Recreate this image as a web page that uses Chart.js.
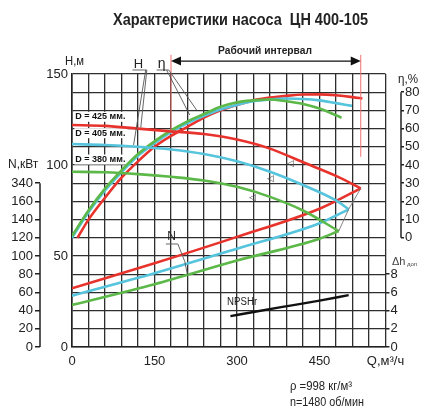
<!DOCTYPE html>
<html><head><meta charset="utf-8">
<script src="https://cdn.jsdelivr.net/npm/chart.js@4.4.1/dist/chart.umd.min.js"></script>
<style>html,body{margin:0;padding:0;background:#fff;}#wrap{width:427px;height:410px;}</style>
</head><body><div id="wrap"><canvas id="c" width="427" height="410"></canvas></div>
<script>
// ---- data (Q in m3/h) ----
const Q_H425 = [0, 60, 120, 180, 240, 300, 360, 420, 480, 525];
const H425   = [122, 121.5, 120, 118.5, 117, 114, 109, 101.5, 94, 87.2];
const Q_H405 = [0, 60, 120, 180, 240, 300, 360, 420, 480, 503];
const H405   = [111.5, 111, 110, 108.5, 106, 102, 96.3, 89, 80.5, 75.7];
const Q_H380 = [0, 60, 120, 180, 240, 300, 360, 420, 485];
const H380   = [96.3, 96, 95, 93.5, 91.5, 88, 82.5, 75, 63.7];

const Q_N425 = [0, 150, 300, 450, 525];
const N425   = [64.5, 92, 121, 152, 174.4];
const Q_N405 = [0, 150, 300, 450, 503];
const N405   = [56.4, 81, 108, 136, 151.3];
const Q_N380 = [0, 150, 300, 450, 485];
const N380   = [46.2, 69, 95, 119, 127.5];

const Q_E425 = [10, 30, 60, 90, 120, 150, 180, 210, 240, 270, 300, 330, 360, 390, 420, 450, 480, 510, 528];
const E425   = [0, 10, 22, 33, 42, 50, 56, 61, 66, 70, 73, 75.5, 77, 78, 78.7, 78.8, 78.3, 77.3, 76.5];
const Q_E405 = [0, 30, 60, 90, 120, 150, 180, 210, 240, 270, 300, 330, 360, 390, 420, 450, 480, 509];
const E405   = [0, 14, 26, 36, 45, 52, 58, 63, 67, 70.5, 73, 75, 76, 76.5, 76.3, 75.5, 74, 72.5];
const Q_E380 = [0, 30, 60, 90, 120, 150, 180, 210, 240, 270, 300, 330, 360, 390, 420, 450, 490];
const E380   = [1, 15, 27, 37, 46, 53, 59, 64, 68, 72, 74.5, 75.5, 76, 75, 73.5, 71, 66];

const Q_NPSH = [288, 330, 397, 450, 503];
const NPSH   = [3.4, 3.85, 4.55, 5.1, 5.7];

const X_LABELED = [0, 150, 300, 450];
const X_END_LABEL = 'Q,м³/ч';
const H_LABELED = [0, 50, 100, 150];
const N_TICKS = [0, 20, 40, 60, 80, 100, 120, 140, 160, 180];
const N_TICK_TEXT = ['0', '20', '40', '60', '80', '100', '120', '140', '160', '340'];
const ETA_TICKS = [0, 10, 20, 30, 40, 50, 60, 70, 80];
const NPSH_TICKS = [0, 2, 4, 6, 8];
const WORK_Q = [180, 525];
const DIAMETERS = ['D = 425 мм.', 'D = 405 мм.', 'D = 380 мм.'];

const RED = '#e8332d', CYAN = '#55c4dc', GREEN = '#5cb848';
const FONT = "'Liberation Sans', Arial, sans-serif";

const pts = (qs, vs) => qs.map((q, i) => ({x: q, y: vs[i]}));
function ds(qs, vs, color, axis, w) {
  return {data: pts(qs, vs), borderColor: color, borderWidth: w || 2.6, pointRadius: 0,
    fill: false, cubicInterpolationMode: 'monotone', yAxisID: axis};
}
const tipQ = [Q_H425[Q_H425.length-1], Q_H405[Q_H405.length-1], Q_H380[Q_H380.length-1]];
const tipH = [H425[H425.length-1], H405[H405.length-1], H380[H380.length-1]];

function txt(ctx, s, x, y, size, opts) {
  opts = opts || {};
  ctx.save();
  ctx.font = (opts.weight || 'normal') + ' ' + size + 'px ' + FONT;
  ctx.fillStyle = opts.color || '#222';
  ctx.textAlign = opts.align || 'left';
  ctx.textBaseline = 'middle';
  if (opts.maxW) ctx.fillText(s, x, y, opts.maxW); else ctx.fillText(s, x, y);
  ctx.restore();
}
function line(ctx, p, color, w) {
  ctx.save(); ctx.strokeStyle = color; ctx.lineWidth = w; ctx.beginPath();
  p.forEach((q, i) => i ? ctx.lineTo(q[0], q[1]) : ctx.moveTo(q[0], q[1]));
  ctx.stroke(); ctx.restore();
}

const deco = {
  id: 'deco',
  beforeDatasetsDraw(chart) {
    const ctx = chart.ctx, X = chart.scales.x, Y = chart.scales.y;
    const lab = [[6, 126.5], [6, 117.5], [6, 103]];
    DIAMETERS.forEach((s, i) => {
      const x = X.getPixelForValue(lab[i][0]), y = Y.getPixelForValue(lab[i][1]);
      ctx.save(); ctx.font = 'bold 9px ' + FONT;
      const w = Math.min(ctx.measureText(s).width, 52);
      ctx.fillStyle = '#fff'; ctx.fillRect(x - 1, y - 5, w + 3, 10); ctx.restore();
      txt(ctx, s, x, y, 9, {weight: 'bold', maxW: 52, color: '#111'});
    });
  },
  afterDraw(chart) {
    const ctx = chart.ctx, X = chart.scales.x, Y = chart.scales.y;
    const px = q => X.getPixelForValue(q), py = h => Y.getPixelForValue(h);
    // axis lines
    const yN = chart.scales.yN, yE = chart.scales.yEta;
    line(ctx, [[yN.right, yN.getPixelForValue(180)], [yN.right, yN.getPixelForValue(0)]], '#222', 1.5);
    line(ctx, [[yE.left, yE.getPixelForValue(80)], [yE.left, yE.getPixelForValue(0)]], '#222', 1.5);
    // working interval
    WORK_Q.forEach((q, i) => line(ctx, [[px(q), py(160.5)], [px(q), py(i ? 104.5 : 119)]], '#f07070', 1));
    const ay = py(157.1), a0 = px(WORK_Q[0]), a1 = px(WORK_Q[1]);
    line(ctx, [[a0 + 6, ay], [a1 - 6, ay]], '#111', 1.2);
    ctx.save(); ctx.fillStyle = '#111'; ctx.beginPath();
    ctx.moveTo(a0, ay); ctx.lineTo(a0 + 10, ay - 4.5); ctx.lineTo(a0 + 10, ay + 4.5); ctx.closePath(); ctx.fill();
    ctx.beginPath(); ctx.moveTo(a1, ay); ctx.lineTo(a1 - 10, ay - 4.5); ctx.lineTo(a1 - 10, ay + 4.5); ctx.closePath(); ctx.fill();
    ctx.restore();
    txt(ctx, 'Рабочий интервал', 265, 51, 11, {align: 'center', maxW: 94, color: '#222', weight: 'bold'});
    // leaders
    const g = '#555';
    line(ctx, [[px(110), py(152.2)], [px(136), py(152.2)], [px(125), py(120.5)]], g, 0.9);
    line(ctx, [[px(134), py(152.2)], [px(112), py(111)]], g, 0.9);
    line(ctx, [[px(154), py(152.2)], [px(176), py(152.2)], [px(227), py(130)]], g, 0.9);
    line(ctx, [[px(172), py(152.2)], [px(214), py(127.5)]], g, 0.9);
    line(ctx, [[px(170.6), py(56.6)], [px(192.5), py(56.6)], [px(205), py(47)], [px(210), py(39.6)]], g, 0.9);
    line(ctx, tipQ.map((q, i) => [px(q), py(tipH[i])]), '#777', 0.9);
    txt(ctx, 'H', px(121), py(155.5), 13, {align: 'center'});
    txt(ctx, 'η', px(163), py(155.5), 14, {align: 'center'});
    txt(ctx, 'N', px(181), py(60.4), 12, {align: 'center'});
    txt(ctx, 'NPSHr', px(282), py(24.7), 10, {maxW: 30});
    // optimum markers
    [[397, 101], [360, 92.3], [327.6, 81.9]].forEach(m => txt(ctx, '◁', px(m[0]), py(m[1]), 9, {align: 'center', color: '#444'}));
    // titles and axis captions
    txt(ctx, 'Характеристики насоса  ЦН 400-105', 240.5, 20, 17, {align: 'center', maxW: 255, color: '#222', weight: 'bold'});
    txt(ctx, 'H,м', 65, 62, 12, {maxW: 19});
    txt(ctx, 'η,%', 398, 80, 12, {maxW: 20});
    txt(ctx, 'N,кВт', 8, 165, 12, {maxW: 32});
    txt(ctx, 'Δh', 392, 262, 11, {maxW: 14, color: '#444'});
    txt(ctx, 'доп', 407, 264, 6, {maxW: 12, color: '#444'});
    txt(ctx, 'ρ =998 кг/м³', 290, 387, 12, {maxW: 62});
    txt(ctx, 'n=1480 об/мин', 290, 403, 12, {maxW: 74});
  }
};

const gridCol = '#2e2e2e';
new Chart(document.getElementById('c'), {
  type: 'line',
  data: {datasets: [
    ds(Q_H380, H380, GREEN, 'y'), ds(Q_H405, H405, CYAN, 'y'), ds(Q_H425, H425, RED, 'y'),
    ds(Q_N380, N380, GREEN, 'yN'), ds(Q_N405, N405, CYAN, 'yN'), ds(Q_N425, N425, RED, 'yN'),
    ds(Q_E380, E380, GREEN, 'yEta'), ds(Q_E405, E405, CYAN, 'yEta'), ds(Q_E425, E425, RED, 'yEta'),
    ds(Q_NPSH, NPSH, '#111', 'yNPSH', 2.4)
  ]},
  options: {
    responsive: false, animation: false, devicePixelRatio: 1,
    layout: {padding: {top: 74, left: 0, right: 0, bottom: 0}},
    plugins: {legend: {display: false}, tooltip: {enabled: false}, title: {display: false}},
    scales: {
      x: {type: 'linear', min: 0, max: 570, position: 'bottom',
        afterFit: s => { s.height = 63; },
        grid: {color: gridCol, lineWidth: 1.3, drawTicks: false},
        border: {color: '#222', width: 1.6},
        ticks: {stepSize: 30, autoSkip: false, maxRotation: 0, padding: 7, color: '#222',
          font: {family: FONT, size: 13},
          callback: v => X_LABELED.includes(v) ? String(v) : (v === 570 ? X_END_LABEL : '')}},
      y: {type: 'linear', min: 0, max: 150, position: 'left', weight: 0,
        afterFit: s => { s.width = 32; },
        grid: {color: gridCol, lineWidth: 1.3, drawTicks: false},
        border: {color: '#222', width: 1.6},
        ticks: {stepSize: 10, autoSkip: false, padding: 4, color: '#222', font: {family: FONT, size: 13},
          callback: v => H_LABELED.includes(v) ? String(v) : ''}},
      yN: {type: 'linear', min: 0, max: 300, position: 'left', weight: 1,
        afterFit: s => { s.width = 40; },
        afterBuildTicks: s => { s.ticks = N_TICKS.map(v => ({value: v})); },
        grid: {drawOnChartArea: false, drawTicks: true, tickLength: 5, color: '#222', lineWidth: 1.5},
        border: {display: false},
        ticks: {autoSkip: false, padding: 2, color: '#222', font: {family: FONT, size: 13},
          callback: v => N_TICK_TEXT[N_TICKS.indexOf(v)]}},
      yNPSH: {type: 'linear', min: 0, max: 30, position: 'right', weight: 0,
        afterFit: s => { s.width = 15.5; },
        afterBuildTicks: s => { s.ticks = NPSH_TICKS.map(v => ({value: v})); },
        grid: {drawOnChartArea: false, drawTicks: true, tickLength: 4, color: '#222', lineWidth: 1.5},
        border: {display: false},
        ticks: {autoSkip: false, padding: 1, color: '#222', font: {family: FONT, size: 13}}},
      yEta: {type: 'linear', min: -60, max: 90, position: 'right', weight: 1,
        afterFit: s => { s.width = 26; },
        afterBuildTicks: s => { s.ticks = ETA_TICKS.map(v => ({value: v})); },
        grid: {drawOnChartArea: false, drawTicks: true, tickLength: 3, color: '#222', lineWidth: 1.5},
        border: {display: false},
        ticks: {autoSkip: false, padding: 1, color: '#222', font: {family: FONT, size: 13}}}
    }
  },
  plugins: [deco]
});
</script></body></html>
